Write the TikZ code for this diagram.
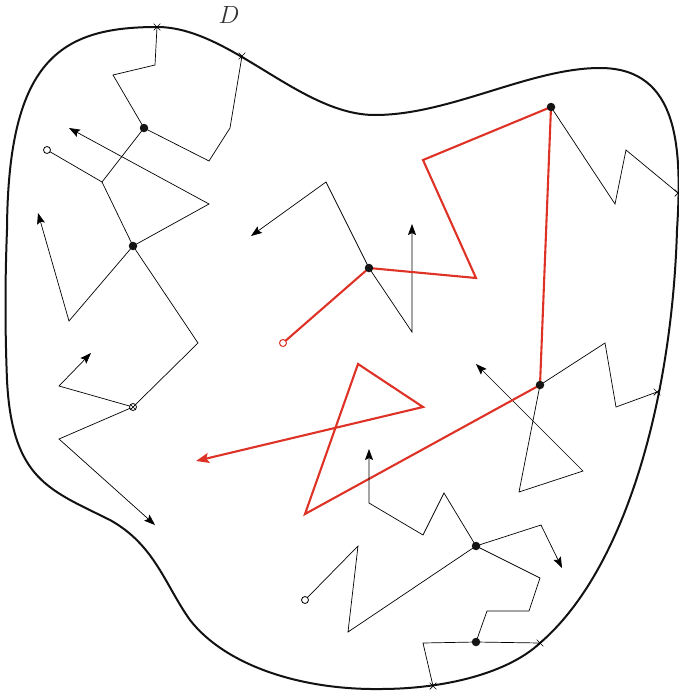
\documentclass[tikz,border=0pt]{standalone}
\usetikzlibrary{arrows.meta,shapes.misc}
\definecolor{walkred}{RGB}{222,50,38}
\tikzset{
  bound/.style={line width=2pt, black!93, line join=round},
  walk/.style={line width=0.7pt, black, line join=miter},
  redwalk/.style={line width=2.1pt, walkred, line join=miter},
  dotnode/.style={circle, fill=black!92, inner sep=0pt, minimum size=8.5pt},
  opennode/.style={circle, draw, line width=0.8pt, fill=white, inner sep=0pt, minimum size=7pt},
  redopen/.style={circle, draw=walkred, line width=1pt, fill=white, inner sep=0pt, minimum size=7pt},
  crossnode/.style={cross out, draw, line width=0.7pt, inner sep=0pt, minimum size=6pt},
  tipb/.style={-{Stealth[length=11pt,width=8pt,inset=2pt]}},
  tipr/.style={-{Stealth[length=13pt,width=10pt,inset=2.5pt]}},
  lab/.style={font=\fontsize{23}{26}\selectfont, text=black!80}
}
\begin{document}
\begin{tikzpicture}[x=1pt,y=-1pt]
\useasboundingbox (0,0) rectangle (678,693);
% boundary
\draw[bound] (157,27) .. controls (230,27) and (300,115) .. (375,115)
  .. controls (450,115) and (530,68) .. (600,68)
  .. controls (680,68) and (682,150) .. (677,230)
  .. controls (672,400) and (625,570) .. (540,643)
  .. controls (508,673) and (445,689) .. (380,689)
  .. controls (300,690) and (225,665) .. (190,620)
  .. controls (165,585) and (155,545) .. (110,520)
  .. controls (50,490) and (12,480) .. (7,380)
  .. controls (5,330) and (5,280) .. (7,230)
  .. controls (8,60) and (60,27) .. (157,27) -- cycle;
\node[lab] (D) at (229,15) {$D$};

% ---------- cluster top-left ----------
\coordinate (x1) at (157,27);
\coordinate (a1) at (155,65);
\coordinate (a2) at (113,75);
\coordinate (A) at (144,128);
\coordinate (a3) at (209,161);
\coordinate (a4) at (230,128);
\coordinate (x2) at (242,56);
\coordinate (J) at (102,182);
\coordinate (o1) at (47,150);
\coordinate (B) at (133,246);
\coordinate (b1) at (209,204);
\coordinate (t1) at (69,128);
\coordinate (b2) at (69,321);
\coordinate (t2) at (38,213);
\coordinate (b3) at (198,343);
\coordinate (K) at (133,407);
\coordinate (k1) at (59,386);
\coordinate (t3) at (91,353);
\coordinate (k2) at (59,439);
\coordinate (t4) at (155,525);

\draw[walk] (x1) -- (a1) -- (a2) -- (A);
\draw[walk] (A) -- (a3) -- (a4) -- (x2);
\draw[walk] (A) -- (J) -- (o1);
\draw[walk] (J) -- (B);
\draw[walk,tipb] (B) -- (b1) -- (t1);
\draw[walk,tipb] (B) -- (b2) -- (t2);
\draw[walk] (B) -- (b3) -- (K);
\draw[walk,tipb] (K) -- (k1) -- (t3);
\draw[walk,tipb] (K) -- (k2) -- (t4);

% ---------- centre / red ----------
\coordinate (C) at (369,268);
\coordinate (o2) at (283,343);
\coordinate (r1) at (476,278);
\coordinate (r2) at (423,160);
\coordinate (E) at (551,107);
\coordinate (F) at (540,385);
\coordinate (r3) at (305,514);
\coordinate (r4) at (358,364);
\coordinate (r5) at (423,407);
\coordinate (t5) at (196,461);
\coordinate (c1) at (326,182);
\coordinate (t6) at (251,236);
\coordinate (c2) at (412,332);
\coordinate (t7) at (412,224);
\coordinate (e1) at (615,204);
\coordinate (e2) at (626,150);
\coordinate (x3) at (678,193);
\coordinate (f1) at (605,343);
\coordinate (f2) at (616,407);
\coordinate (x4) at (657,392);
\coordinate (f3) at (519,492);
\coordinate (f4) at (583,471);
\coordinate (t8) at (476,364);

\draw[walk,tipb] (C) -- (c1) -- (t6);
\draw[walk,tipb] (C) -- (c2) -- (t7);
\draw[walk] (E) -- (e1) -- (e2) -- (x3);
\draw[walk] (F) -- (f1) -- (f2) -- (x4);
\draw[walk,tipb] (F) -- (f3) -- (f4) -- (t8);
\draw[redwalk] (o2) -- (C) -- (r1) -- (r2) -- (E) -- (F);
\draw[redwalk,tipr] (F) -- (r3) -- (r4) -- (r5) -- (t5);

% ---------- bottom ----------
\coordinate (G) at (476,546);
\coordinate (g1) at (444,493);
\coordinate (g2) at (423,535);
\coordinate (g3) at (369,503);
\coordinate (t9) at (369,449);
\coordinate (g4) at (541,525);
\coordinate (t10) at (562,568);
\coordinate (g5) at (348,632);
\coordinate (g6) at (358,546);
\coordinate (o3) at (305,600);
\coordinate (g7) at (540,578);
\coordinate (g8) at (529,611);
\coordinate (g9) at (487,611);
\coordinate (H) at (476,642);
\coordinate (x5) at (540,643);
\coordinate (h1) at (423,643);
\coordinate (x6) at (433,686);

\draw[walk,tipb] (G) -- (g1) -- (g2) -- (g3) -- (t9);
\draw[walk,tipb] (G) -- (g4) -- (t10);
\draw[walk] (G) -- (g5) -- (g6) -- (o3);
\draw[walk] (G) -- (g7) -- (g8) -- (g9) -- (H);
\draw[walk] (H) -- (x5);
\draw[walk] (H) -- (h1) -- (x6);

% ---------- markers ----------
\foreach \p in {A,B,C,E,F,G,H} \node[dotnode] at (\p) {};
\node[opennode] at (o1) {};
\node[opennode] at (o3) {};
\node[redopen] at (o2) {};
\node[circle, draw, line width=0.8pt, fill=white, inner sep=0pt, minimum size=7pt] at (K) {};
\node[crossnode, minimum size=5pt] at (K) {};
\foreach \p in {x1,x2,x3,x4,x5,x6} \node[crossnode] at (\p) {};
\end{tikzpicture}
\end{document}
